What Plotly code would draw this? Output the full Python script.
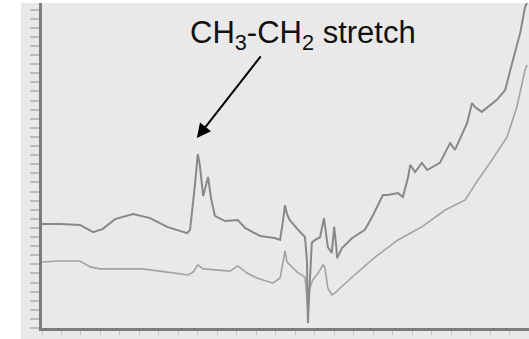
import plotly.graph_objects as go

# Abstract axis units (labels in the reference are illegible): x 0-100, y 0-100
upper_x = [0.0, 3.7, 7.8, 9.0, 10.5, 12.5, 15.0, 18.7, 22.2, 25.7, 28.3, 29.8, 30.4, 31.0, 31.4, 32.0,
           32.4, 33.1, 33.7, 34.1, 34.7, 35.5, 37.6, 40.2, 41.7, 44.8, 47.8, 48.9, 49.5, 49.9, 50.3,
           50.9, 52.6, 54.0, 54.4, 54.6, 54.8, 55.4, 56.1, 57.1, 57.9, 58.3, 58.7, 59.5, 60.0, 60.4,
           60.6, 61.6, 63.7, 66.3, 67.8, 70.0, 71.0, 73.1, 74.1, 75.2, 75.6, 76.6, 78.0, 79.1, 81.7,
           83.8, 84.8, 87.3, 88.3, 88.9, 90.3, 93.4, 95.1, 96.7, 98.2, 99.2, 99.6]
upper_y = [32.0, 32.0, 31.7, 30.8, 29.5, 30.5, 33.5, 35.1, 33.8, 31.1, 29.8, 29.2, 30.2, 37.8, 44.0, 53.5,
           50.2, 40.6, 44.0, 46.5, 40.0, 34.5, 32.9, 33.2, 30.8, 28.3, 27.7, 27.1, 33.2, 37.8, 35.1,
           33.2, 30.2, 28.0, 20.9, 1.5, 8.6, 26.2, 27.1, 28.0, 33.8, 28.6, 24.9, 23.1, 31.1, 25.5,
           21.5, 24.6, 27.7, 30.2, 34.2, 40.9, 40.9, 41.5, 40.3, 46.5, 50.2, 48.0, 50.8, 48.6, 50.8,
           56.9, 54.8, 63.1, 69.2, 68.0, 66.5, 70.2, 73.2, 82.5, 90.8, 98.8, 100.0]

lower_x = [0.0, 3.7, 7.8, 9.9, 11.9, 20.7, 25.7, 30.0, 31.0, 32.0, 33.1, 35.9, 38.6, 40.2, 42.1, 44.1,
           47.4, 48.9, 49.9, 50.3, 52.4, 54.0, 54.6, 55.0, 55.6, 56.7, 57.7, 58.1, 58.7, 59.5, 60.2,
           60.8, 63.7, 68.4, 73.1, 78.0, 82.8, 86.9, 89.5, 92.0, 95.5, 97.5, 99.2, 99.6]
lower_y = [20.3, 20.6, 20.6, 18.8, 18.2, 18.2, 17.2, 16.3, 17.2, 19.4, 18.2, 17.8, 17.5, 19.1, 16.9, 15.4,
           13.8, 15.4, 23.7, 20.3, 17.2, 15.7, 5.5, 12.3, 14.8, 16.9, 19.4, 18.5, 12.3, 10.2, 10.8,
           11.7, 15.7, 21.8, 27.1, 31.1, 36.3, 39.4, 45.5, 50.8, 58.8, 68.0, 79.4, 80.9]

label_text = "CH<sub>3</sub>-CH<sub>2</sub> stretch"
arrow_tip = (31.8, 58.5)

W, H = 529, 339
ML, MR, MT, MB = 42, 0, 3, 11
PW, PH = W - ML - MR, H - MT - MB

fig = go.Figure()
fig.add_trace(go.Scatter(x=lower_x, y=lower_y, mode="lines",
                         line=dict(color="#a2a2a2", width=1.6), hoverinfo="skip"))
fig.add_trace(go.Scatter(x=upper_x, y=upper_y, mode="lines",
                         line=dict(color="#888888", width=2.0), hoverinfo="skip"))

# arrow
fig.add_annotation(x=arrow_tip[0], y=arrow_tip[1], xref="x", yref="y", text="",
                   showarrow=True, ax=65, ay=-83, axref="pixel", ayref="pixel",
                   arrowhead=2, arrowsize=1.4, arrowwidth=2, arrowcolor="#000000", standoff=0)
# label
fig.add_annotation(x=53.5, y=1.0 - (13 - MT) / PH, xref="x", yref="paper", text=label_text,
                   showarrow=False, xanchor="center", yanchor="top",
                   font=dict(family="Liberation Sans, Arial, sans-serif", size=31, color="#111111"))

# white strips outside the scanned grey area
fig.add_shape(type="rect", xref="paper", yref="paper", x0=-ML / PW, x1=-(ML - 21) / PW,
              y0=-MB / PH, y1=1 + MT / PH, fillcolor="white", line=dict(width=0), layer="below")
fig.add_shape(type="rect", xref="paper", yref="paper", x0=-ML / PW, x1=1,
              y0=1, y1=1 + MT / PH, fillcolor="white", line=dict(width=0), layer="below")

fig.update_layout(
    width=W, height=H, margin=dict(l=ML, r=MR, t=MT, b=MB),
    paper_bgcolor="#e9e9e9", plot_bgcolor="#e9e9e9", showlegend=False,
    xaxis=dict(range=[0, 100], showgrid=False, zeroline=False, showline=True, linecolor="#7c7c7c",
               linewidth=3, ticks="outside", ticklen=4, tickwidth=1, tickcolor="#c0c0c0",
               tick0=0, dtick=4, showticklabels=False),
    yaxis=dict(range=[0, 100], showgrid=False, zeroline=False, showline=True, linecolor="#7c7c7c",
               linewidth=3, ticks="outside", ticklen=9, tickwidth=1.5, tickcolor="#bdbdbd",
               tick0=0, dtick=2.8, showticklabels=False),
)

fig.write_html("out.html")
